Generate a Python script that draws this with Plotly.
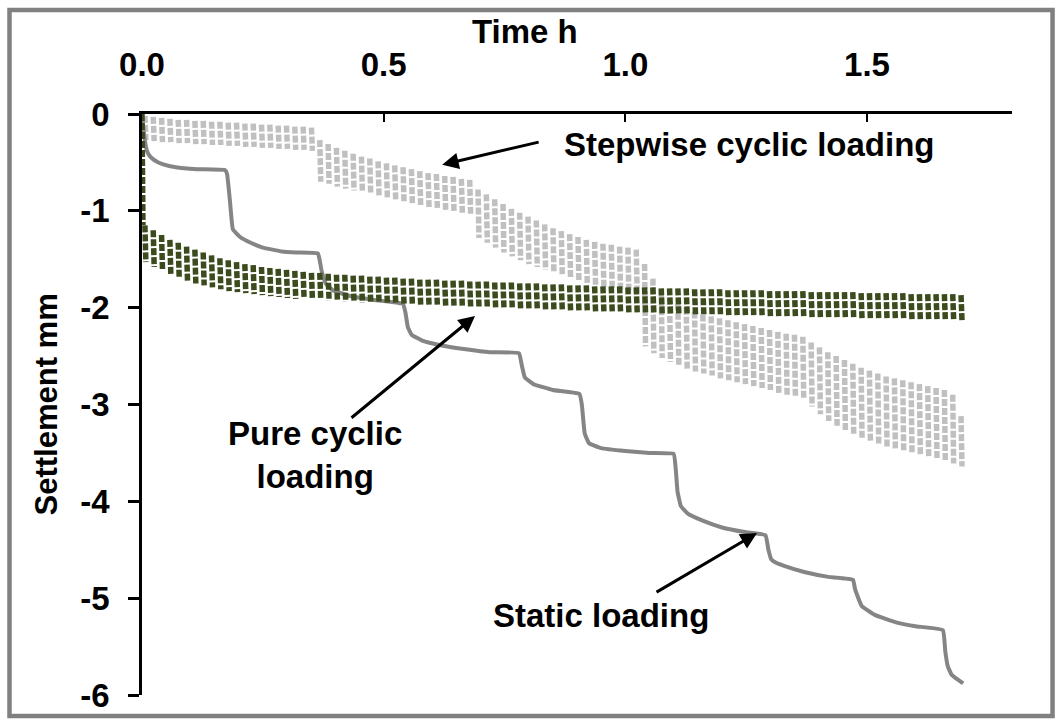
import plotly.graph_objects as go

FONT = "Liberation Sans, Arial, sans-serif"

# ---- axes ----
time_ticks = [0.0, 0.5, 1.0, 1.5]
time_tick_text = ["0.0", "0.5", "1.0", "1.5"]
settle_ticks = [0, -1, -2, -3, -4, -5, -6]
settle_tick_text = ["0", "-1", "-2", "-3", "-4", "-5", "-6"]

# ---- cyclic tests: one load cycle every CYCLE_PERIOD_H hours ----
CYCLE_T0_H = 0.006
CYCLE_PERIOD_H = 0.01723

# pure cyclic loading: settlement at unloaded (top) and loaded (bottom) state per cycle, mm
pure_onset_t = [0.0, 0.002]
pure_onset_s = [0.0, -1.15]
pure_top = [
    -1.15, -1.20, -1.25, -1.30, -1.33, -1.37, -1.40, -1.43, -1.46, -1.49,
    -1.51, -1.53, -1.55, -1.56, -1.58, -1.59, -1.60, -1.61, -1.62, -1.63,
    -1.64, -1.64, -1.65, -1.66, -1.66, -1.67, -1.67, -1.68, -1.68, -1.69,
    -1.69, -1.70, -1.70, -1.71, -1.71, -1.71, -1.72, -1.72, -1.72, -1.73,
    -1.73, -1.73, -1.74, -1.74, -1.74, -1.75, -1.75, -1.75, -1.76, -1.76,
    -1.76, -1.77, -1.77, -1.77, -1.78, -1.78, -1.78, -1.78, -1.79, -1.79,
    -1.79, -1.79, -1.80, -1.80, -1.80, -1.80, -1.81, -1.81, -1.81, -1.81,
    -1.82, -1.82, -1.82, -1.82, -1.82, -1.83, -1.83, -1.83, -1.83, -1.83,
    -1.84, -1.84, -1.84, -1.84, -1.84, -1.84, -1.85, -1.85, -1.85, -1.85,
    -1.85, -1.85, -1.86, -1.86, -1.86, -1.86, -1.86, -1.86, -1.87,
]
pure_bottom = [
    -1.53, -1.58, -1.62, -1.66, -1.69, -1.72, -1.75, -1.77, -1.79, -1.81,
    -1.83, -1.84, -1.85, -1.86, -1.87, -1.88, -1.89, -1.90, -1.91, -1.91,
    -1.92, -1.92, -1.93, -1.93, -1.94, -1.94, -1.95, -1.95, -1.95, -1.96,
    -1.96, -1.96, -1.97, -1.97, -1.97, -1.98, -1.98, -1.98, -1.99, -1.99,
    -1.99, -2.00, -2.00, -2.00, -2.01, -2.01, -2.01, -2.02, -2.02, -2.02,
    -2.02, -2.03, -2.03, -2.03, -2.04, -2.04, -2.04, -2.05, -2.05, -2.05,
    -2.05, -2.06, -2.06, -2.06, -2.07, -2.07, -2.07, -2.07, -2.08, -2.08,
    -2.08, -2.08, -2.09, -2.09, -2.09, -2.09, -2.10, -2.10, -2.10, -2.10,
    -2.10, -2.11, -2.11, -2.11, -2.11, -2.11, -2.12, -2.12, -2.12, -2.12,
    -2.12, -2.12, -2.13, -2.13, -2.13, -2.13, -2.13, -2.13, -2.13,
]

# stepwise cyclic loading (five load stages), same cycle clock
step_top = [
    -0.02, -0.03, -0.04, -0.05, -0.06, -0.06, -0.07, -0.07, -0.08, -0.08,
    -0.09, -0.09, -0.10, -0.10, -0.11, -0.11, -0.12, -0.12, -0.13, -0.13, -0.14,
    -0.27, -0.31, -0.35, -0.38, -0.41, -0.44, -0.46, -0.49, -0.51, -0.53,
    -0.55, -0.57, -0.59, -0.61, -0.62, -0.64, -0.65, -0.67, -0.68,
    -0.78, -0.83, -0.88, -0.93, -0.98, -1.02, -1.06, -1.10, -1.14, -1.18,
    -1.21, -1.24, -1.27, -1.30, -1.32, -1.34, -1.35, -1.37, -1.38, -1.40,
    -1.55, -1.70, -1.82, -1.90, -1.96, -2.00, -2.04, -2.07, -2.09, -2.11,
    -2.13, -2.15, -2.17, -2.19, -2.21, -2.23, -2.25, -2.27, -2.28, -2.30,
    -2.36, -2.41, -2.46, -2.50, -2.54, -2.58, -2.62, -2.65, -2.68, -2.71,
    -2.73, -2.75, -2.77, -2.79, -2.81, -2.83, -2.85, -2.90, -3.12,
]
step_bottom = [
    -0.27, -0.28, -0.29, -0.29, -0.30, -0.30, -0.31, -0.31, -0.32, -0.32,
    -0.33, -0.33, -0.34, -0.34, -0.35, -0.35, -0.36, -0.36, -0.37, -0.37, -0.38,
    -0.70, -0.72, -0.75, -0.77, -0.79, -0.81, -0.83, -0.85, -0.87, -0.89,
    -0.91, -0.92, -0.94, -0.96, -0.97, -0.99, -1.00, -1.02, -1.03,
    -1.28, -1.33, -1.38, -1.43, -1.47, -1.51, -1.55, -1.58, -1.61, -1.64,
    -1.67, -1.70, -1.72, -1.75, -1.77, -1.79, -1.81, -1.83, -1.85, -1.87,
    -2.40, -2.47, -2.52, -2.56, -2.60, -2.63, -2.66, -2.68, -2.70, -2.73,
    -2.75, -2.77, -2.79, -2.81, -2.83, -2.85, -2.88, -2.90, -2.92, -2.95,
    -3.02, -3.10, -3.17, -3.22, -3.27, -3.31, -3.35, -3.38, -3.41, -3.44,
    -3.46, -3.49, -3.51, -3.53, -3.55, -3.57, -3.59, -3.61, -3.64,
]

# static (stepwise monotonic) loading, h / mm
static_t = [
    0.0, 0.004, 0.010, 0.017, 0.030, 0.044, 0.070, 0.114, 0.172,
    0.176, 0.182, 0.188, 0.203, 0.225, 0.250, 0.290, 0.320, 0.364,
    0.368, 0.372, 0.380, 0.395, 0.430, 0.480, 0.530, 0.540,
    0.545, 0.550, 0.558, 0.580, 0.620, 0.670, 0.720, 0.780,
    0.786, 0.792, 0.810, 0.850, 0.905,
    0.910, 0.916, 0.925, 0.950, 1.000, 1.050, 1.100,
    1.104, 1.108, 1.115, 1.130, 1.160, 1.200, 1.250, 1.290,
    1.296, 1.302, 1.310, 1.330, 1.370, 1.420, 1.471,
    1.475, 1.479, 1.489, 1.515, 1.560, 1.600, 1.657,
    1.662, 1.667, 1.675, 1.699,
]
static_s = [
    0.0, -0.20, -0.38, -0.44, -0.49, -0.52, -0.55, -0.57, -0.58,
    -0.62, -0.90, -1.19, -1.27, -1.33, -1.38, -1.42, -1.43, -1.44,
    -1.52, -1.63, -1.75, -1.82, -1.88, -1.92, -1.95, -1.96,
    -2.05, -2.20, -2.28, -2.34, -2.39, -2.43, -2.46, -2.47,
    -2.60, -2.72, -2.79, -2.85, -2.89,
    -3.00, -3.30, -3.40, -3.45, -3.48, -3.50, -3.51,
    -3.65, -3.90, -4.05, -4.13, -4.20, -4.27, -4.32, -4.35,
    -4.50, -4.60, -4.63, -4.67, -4.73, -4.78, -4.81,
    -4.90, -4.96, -5.08, -5.17, -5.25, -5.29, -5.33,
    -5.55, -5.70, -5.79, -5.88,
]


def cycle_columns(tops, bottoms, lean=0.002, onset=None):
    """One short dotted stroke per load cycle, from unloaded to loaded settlement."""
    xs, ys = [], []
    if onset is not None:
        xs += list(onset[0]) + [None]
        ys += list(onset[1]) + [None]
    for i, (a, b) in enumerate(zip(tops, bottoms)):
        t = CYCLE_T0_H + i * CYCLE_PERIOD_H
        xs += [t, t + lean, None]
        ys += [a, b, None]
    return xs, ys


fig = go.Figure()

sx, sy = cycle_columns(step_top, step_bottom)
fig.add_trace(go.Scatter(
    x=sx, y=sy, mode="lines", name="Stepwise cyclic loading",
    line=dict(color="#c0c0c0", width=5.5, dash="7px,2px"),
    connectgaps=False, hoverinfo="skip",
))

fig.add_trace(go.Scatter(
    x=static_t, y=static_s, mode="lines", name="Static loading",
    line=dict(color="#858585", width=4, shape="spline", smoothing=0.3),
))

px_, py_ = cycle_columns(pure_top, pure_bottom, onset=(pure_onset_t, pure_onset_s))
fig.add_trace(go.Scatter(
    x=px_, y=py_, mode="lines", name="Pure cyclic loading",
    line=dict(color="#3c4b1d", width=5.5, dash="7px,2px"),
    connectgaps=False, hoverinfo="skip",
))

bold = dict(family=FONT, size=33, color="black", weight="bold")

annotations = [
    # axis titles
    dict(text="Time h", x=0.4406, y=1.0, xref="paper", yref="paper",
         xanchor="center", yanchor="bottom", yshift=62, showarrow=False, font=bold),
    dict(text="Settlement mm", x=0, y=0.5, xref="paper", yref="paper",
         xanchor="center", yanchor="middle", xshift=-96, textangle=-90,
         showarrow=False, font=dict(family=FONT, size=31, color="black", weight="bold")),
    # series labels
    dict(text="Stepwise cyclic loading", x=1.256, y=-0.32, showarrow=False, font=bold,
         xanchor="center", yanchor="middle"),
    dict(text="Pure cyclic<br>loading", x=0.358, y=-3.52, showarrow=False, font=bold,
         xanchor="center", yanchor="middle"),
    dict(text="Static loading", x=0.95, y=-5.18, showarrow=False, font=bold,
         xanchor="center", yanchor="middle"),
    # pointer arrows
    dict(text="", x=0.621, y=-0.524, ax=98, ay=-23, showarrow=True,
         arrowhead=2, arrowsize=1.1, arrowwidth=3, arrowcolor="black"),
    dict(text="", x=0.689, y=-2.086, ax=-125, ay=103, showarrow=True,
         arrowhead=2, arrowsize=1.1, arrowwidth=3, arrowcolor="black"),
    dict(text="", x=1.2725, y=-4.327, ax=-102, ay=60, showarrow=True,
         arrowhead=2, arrowsize=1.1, arrowwidth=3, arrowcolor="black"),
]

fig.update_layout(
    width=1062, height=726,
    margin=dict(l=142, r=50, t=114, b=28),
    paper_bgcolor="white", plot_bgcolor="white",
    showlegend=False,
    annotations=annotations,
    shapes=[dict(type="rect", xref="paper", yref="paper",
                 x0=-0.1523, x1=1.0466, y0=-0.036, y1=1.1789,
                 line=dict(color="#808080", width=4.5), layer="below")],
    xaxis=dict(
        side="top", range=[0, 1.8], tickvals=time_ticks, ticktext=time_tick_text,
        ticks="inside", ticklen=8, tickwidth=1.5, tickcolor="black",
        showline=True, linewidth=3, linecolor="black", showgrid=False, zeroline=False,
        tickfont=bold, ticklabelstandoff=22,
    ),
    yaxis=dict(
        range=[-6, 0], tickvals=settle_ticks, ticktext=settle_tick_text,
        ticks="outside", ticklen=11, tickwidth=2.5, tickcolor="black",
        showline=True, linewidth=2.5, linecolor="black", showgrid=False, zeroline=False,
        tickfont=bold, ticklabelstandoff=12,
    ),
)

fig.write_html("out.html")
